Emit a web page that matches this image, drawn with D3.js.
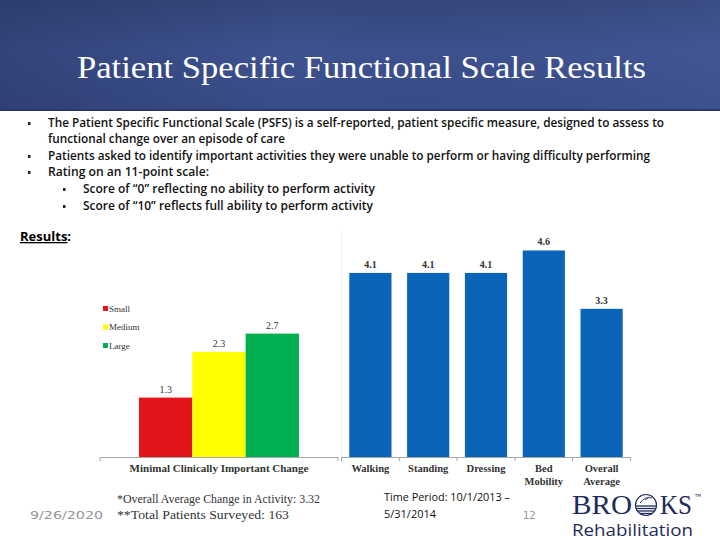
<!DOCTYPE html>
<html>
<head>
<meta charset="utf-8">
<script src="https://cdn.jsdelivr.net/npm/d3@7"></script>
<style>
  body { margin: 0; background: #fff; }
  svg { display: block; }
</style>
</head>
<body>
<svg id="slide" width="720" height="540"></svg>
<script>
// chart values
const mcidCategory = ["Minimal Clinically Important Change"];
const mcidSizes = ["Small", "Medium", "Large"];
const mcidValues = [1.3, 2.3, 2.7];
const mcidColors = ["#e3151a", "#ffff00", "#00b050"];

const activities = ["Walking", "Standing", "Dressing", "Bed Mobility", "Overall Average"];
const activityValues = [4.1, 4.1, 4.1, 4.6, 3.3];

const bullets = [
    {text: "The Patient Specific Functional Scale (PSFS) is a self-reported, patient specific measure, designed to assess to", lvl: 0, w: 616, bullet: true},
    {text: "functional change over an episode of care", lvl: 0, w: 237, bullet: false},
    {text: "Patients asked to identify important activities they were unable to perform or having difficulty performing", lvl: 0, w: 602, bullet: true},
    {text: "Rating on an 11-point scale:", lvl: 0, w: 161, bullet: true},
    {text: "Score of \u201c0\u201d reflecting no ability to perform activity", lvl: 1, w: 292, bullet: true},
    {text: "Score of \u201c10\u201d reflects full ability to perform activity", lvl: 1, w: 290, bullet: true}
];

const svg = d3.select('#slide');

// header band
const defs = svg.append('defs');
const grad = defs.append('linearGradient').attr('id', 'hdr')
    .attr('x1', 0).attr('y1', 0).attr('x2', 0).attr('y2', 1);
grad.append('stop').attr('offset', '0%').attr('stop-color', '#34467a');
grad.append('stop').attr('offset', '45%').attr('stop-color', '#3e5290');
grad.append('stop').attr('offset', '100%').attr('stop-color', '#384c88');
const grad2 = defs.append('linearGradient').attr('id', 'hdr2')
    .attr('x1', 0).attr('y1', 0).attr('x2', 1).attr('y2', 0);
grad2.append('stop').attr('offset', '0%').attr('stop-color', '#1e2a50').attr('stop-opacity', 0.35);
grad2.append('stop').attr('offset', '40%').attr('stop-color', '#1e2a50').attr('stop-opacity', 0);
grad2.append('stop').attr('offset', '100%').attr('stop-color', '#5066a8').attr('stop-opacity', 0.2);

svg.append('rect').attr('x', 0).attr('y', 0).attr('width', 720).attr('height', 110).attr('fill', 'url(#hdr)');
svg.append('rect').attr('x', 0).attr('y', 0).attr('width', 720).attr('height', 110).attr('fill', 'url(#hdr2)');
svg.append('line').attr('x1', 0).attr('x2', 720).attr('y1', 110).attr('y2', 110)
    .attr('stroke', '#2a3865').attr('stroke-width', 2);

svg.append('text')
    .attr('x', 77).attr('y', 78)
    .attr('textLength', 569).attr('lengthAdjust', 'spacingAndGlyphs')
    .style('font-family', '"Liberation Serif", "DejaVu Serif", serif')
    .style('font-size', '32px')
    .attr('fill', '#fff')
    .text('Patient Specific Functional Scale Results');

// bullet list
const lineY = [127, 143, 160, 176, 193, 210];
bullets.forEach((b, i) => {
    const tx = b.lvl === 0 ? 48 : 83;
    const bx = b.lvl === 0 ? 28 : 63;
    if (b.bullet) {
        svg.append('rect').attr('x', bx).attr('y', lineY[i] - 5).attr('width', 2.5).attr('height', 3)
            .attr('fill', '#222');
    }
    svg.append('text')
        .attr('x', tx).attr('y', lineY[i])
        .attr('textLength', b.w).attr('lengthAdjust', 'spacingAndGlyphs')
        .style('font-family', '"Open Sans", "DejaVu Sans", sans-serif')
        .style('font-size', '12px')
        .style('font-weight', 600)
        .attr('fill', '#111')
        .text(b.text);
});

const res = svg.append('text').attr('x', 20).attr('y', 241)
    .style('font-family', '"Open Sans", sans-serif')
    .style('font-size', '13px').style('font-weight', 700).attr('fill', '#000');
res.append('tspan').attr('text-decoration', 'underline').text('Results');
res.append('tspan').text(':');

// left chart (MCID)
const baseY = 457;
const yLeft = d3.scaleLinear().domain([0, 1]).range([baseY, baseY - 45.7]);
const yRight = d3.scaleLinear().domain([0, 1]).range([baseY, baseY - 44.9]);

const xL = d3.scaleBand().domain(mcidCategory).range([100, 338]).paddingInner(0).paddingOuter(0.244);
const xSub = d3.scaleBand().domain(mcidSizes).range([0, xL.bandwidth()]);

const serif = '"Liberation Serif", "DejaVu Serif", serif';

const gL = svg.append('g');
gL.selectAll('rect.bar').data(mcidSizes).join('rect')
    .attr('class', 'bar')
    .attr('x', d => xL(mcidCategory[0]) + xSub(d))
    .attr('width', xSub.bandwidth())
    .attr('y', (d, i) => yLeft(mcidValues[i]))
    .attr('height', (d, i) => baseY - yLeft(mcidValues[i]))
    .attr('fill', (d, i) => mcidColors[i]);

gL.selectAll('text.val').data(mcidSizes).join('text')
    .attr('class', 'val')
    .attr('x', d => xL(mcidCategory[0]) + xSub(d) + xSub.bandwidth() / 2)
    .attr('y', (d, i) => yLeft(mcidValues[i]) - 5)
    .attr('text-anchor', 'middle')
    .style('font-family', serif).style('font-size', '10px')
    .attr('fill', '#333')
    .text((d, i) => mcidValues[i]);

gL.append('g').attr('transform', `translate(0,${baseY})`)
    .call(d3.axisBottom(xL).tickSize(0).tickFormat(''))
    .call(g => g.select('.domain').attr('stroke', '#a6a6a6'));
[100, 338].forEach(x => gL.append('line').attr('x1', x).attr('x2', x)
    .attr('y1', baseY).attr('y2', baseY + 4).attr('stroke', '#a6a6a6'));

gL.append('text')
    .attr('x', xL(mcidCategory[0]) + xL.bandwidth() / 2).attr('y', 472)
    .attr('text-anchor', 'middle')
    .style('font-family', serif).style('font-size', '11px').style('font-weight', 700)
    .attr('fill', '#333')
    .text(mcidCategory[0]);

// legend
const leg = gL.selectAll('g.leg').data(mcidSizes).join('g')
    .attr('class', 'leg')
    .attr('transform', (d, i) => `translate(103,${309 + i * 18.5})`);
leg.append('rect').attr('x', 0).attr('y', -3).attr('width', 5).attr('height', 5)
    .attr('fill', (d, i) => mcidColors[i]);
leg.append('text').attr('x', 6).attr('y', 2.5)
    .style('font-family', serif).style('font-size', '9px')
    .attr('fill', '#333')
    .text(d => d);

// separator
svg.append('line').attr('x1', 341.5).attr('x2', 341.5).attr('y1', 230).attr('y2', baseY)
    .attr('stroke', '#eef4f9').attr('stroke-width', 1);

// right chart (activities)
const xR = d3.scaleBand().domain(activities).range([341.5, 630.5]).paddingInner(0.27).paddingOuter(0.135);
const gR = svg.append('g');
gR.selectAll('rect').data(activities).join('rect')
    .attr('x', d => xR(d))
    .attr('width', xR.bandwidth())
    .attr('y', (d, i) => yRight(activityValues[i]))
    .attr('height', (d, i) => baseY - yRight(activityValues[i]))
    .attr('fill', '#0a64b8');

gR.selectAll('text.val').data(activities).join('text')
    .attr('class', 'val')
    .attr('x', d => xR(d) + xR.bandwidth() / 2)
    .attr('y', (d, i) => yRight(activityValues[i]) - 5)
    .attr('text-anchor', 'middle')
    .style('font-family', serif).style('font-size', '10px').style('font-weight', 700)
    .attr('fill', '#333')
    .text((d, i) => activityValues[i]);

gR.append('g').attr('transform', `translate(0,${baseY})`)
    .call(d3.axisBottom(xR).tickSize(0).tickFormat(''))
    .call(g => g.select('.domain').attr('stroke', '#a6a6a6'));
const half = xR.step() * xR.paddingInner() / 2;
const bounds = activities.map(d => xR(d) - half).concat([xR(activities[activities.length - 1]) + xR.bandwidth() + half]);
gR.selectAll('line.tk').data(bounds).join('line').attr('class', 'tk')
    .attr('x1', d => d).attr('x2', d => d)
    .attr('y1', baseY).attr('y2', baseY + 4).attr('stroke', '#a6a6a6');

gR.selectAll('text.cat').data(activities).join('text')
    .attr('class', 'cat')
    .attr('x', d => xR(d) + xR.bandwidth() / 2)
    .attr('y', 472)
    .attr('text-anchor', 'middle')
    .style('font-family', serif).style('font-size', '10.5px').style('font-weight', 700)
    .attr('fill', '#333')
    .each(function (d) {
        const words = d.split(' ');
        const t = d3.select(this);
        words.forEach((w, j) => t.append('tspan')
            .attr('x', xR(d) + xR.bandwidth() / 2)
            .attr('dy', j === 0 ? 0 : 12.5)
            .text(w));
    });

// footer
svg.append('text').attr('x', 30).attr('y', 519)
    .attr('textLength', 73).attr('lengthAdjust', 'spacingAndGlyphs')
    .style('font-family', '"DejaVu Sans", sans-serif').style('font-size', '11px')
    .attr('fill', '#959595').text('9/26/2020');

svg.append('text').attr('x', 117).attr('y', 503)
    .attr('textLength', 203).attr('lengthAdjust', 'spacingAndGlyphs')
    .style('font-family', serif).style('font-size', '13px')
    .attr('fill', '#333').text('*Overall Average Change in Activity: 3.32');
svg.append('text').attr('x', 117).attr('y', 519)
    .attr('textLength', 172).attr('lengthAdjust', 'spacingAndGlyphs')
    .style('font-family', serif).style('font-size', '13px')
    .attr('fill', '#333').text('**Total Patients Surveyed: 163');

svg.append('text').attr('x', 384).attr('y', 501)
    .attr('textLength', 126).attr('lengthAdjust', 'spacingAndGlyphs')
    .style('font-family', '"Open Sans", sans-serif').style('font-size', '11px')
    .attr('fill', '#111').text('Time Period: 10/1/2013 \u2013');
svg.append('text').attr('x', 384).attr('y', 518)
    .attr('textLength', 52).attr('lengthAdjust', 'spacingAndGlyphs')
    .style('font-family', '"Open Sans", sans-serif').style('font-size', '11px')
    .attr('fill', '#111').text('5/31/2014');

svg.append('text').attr('x', 523).attr('y', 519)
    .style('font-family', '"DejaVu Sans", sans-serif').style('font-size', '10px')
    .attr('fill', '#959595').text('12');

// logo
const navy = '#1f2b5a';
svg.append('text').attr('x', 572).attr('y', 514)
    .attr('textLength', 60).attr('lengthAdjust', 'spacingAndGlyphs')
    .style('font-family', serif).style('font-size', '27px')
    .attr('fill', navy).text('BRO');
svg.append('text').attr('x', 660).attr('y', 514)
    .attr('textLength', 32).attr('lengthAdjust', 'spacingAndGlyphs')
    .style('font-family', serif).style('font-size', '27px')
    .attr('fill', navy).text('KS');
svg.append('text').attr('x', 695).attr('y', 497)
    .style('font-family', '"DejaVu Sans", sans-serif').style('font-size', '4px')
    .attr('fill', navy).text('TM');
const emb = svg.append('g').attr('transform', 'translate(646,505)');
emb.append('circle').attr('r', 10.5).attr('fill', 'none').attr('stroke', navy).attr('stroke-width', 1.2);
[1, 3.5, 6, 8.5].forEach(dy => {
    const hw = Math.sqrt(Math.max(0, 10.5 * 10.5 - dy * dy));
    emb.append('line').attr('x1', -hw).attr('x2', hw).attr('y1', dy).attr('y2', dy)
        .attr('stroke', navy).attr('stroke-width', 1.3);
});
emb.append('path').attr('d', 'M-6,-2 Q-1,-9 6,-7 M-1,-5 L3,-8')
    .attr('fill', 'none').attr('stroke', navy).attr('stroke-width', 0.9);

svg.append('text').attr('x', 572).attr('y', 536)
    .attr('textLength', 121).attr('lengthAdjust', 'spacingAndGlyphs')
    .style('font-family', '"Open Sans", "DejaVu Sans", sans-serif').style('font-size', '17px')
    .attr('fill', navy).text('Rehabilitation');
</script>
</body>
</html>
